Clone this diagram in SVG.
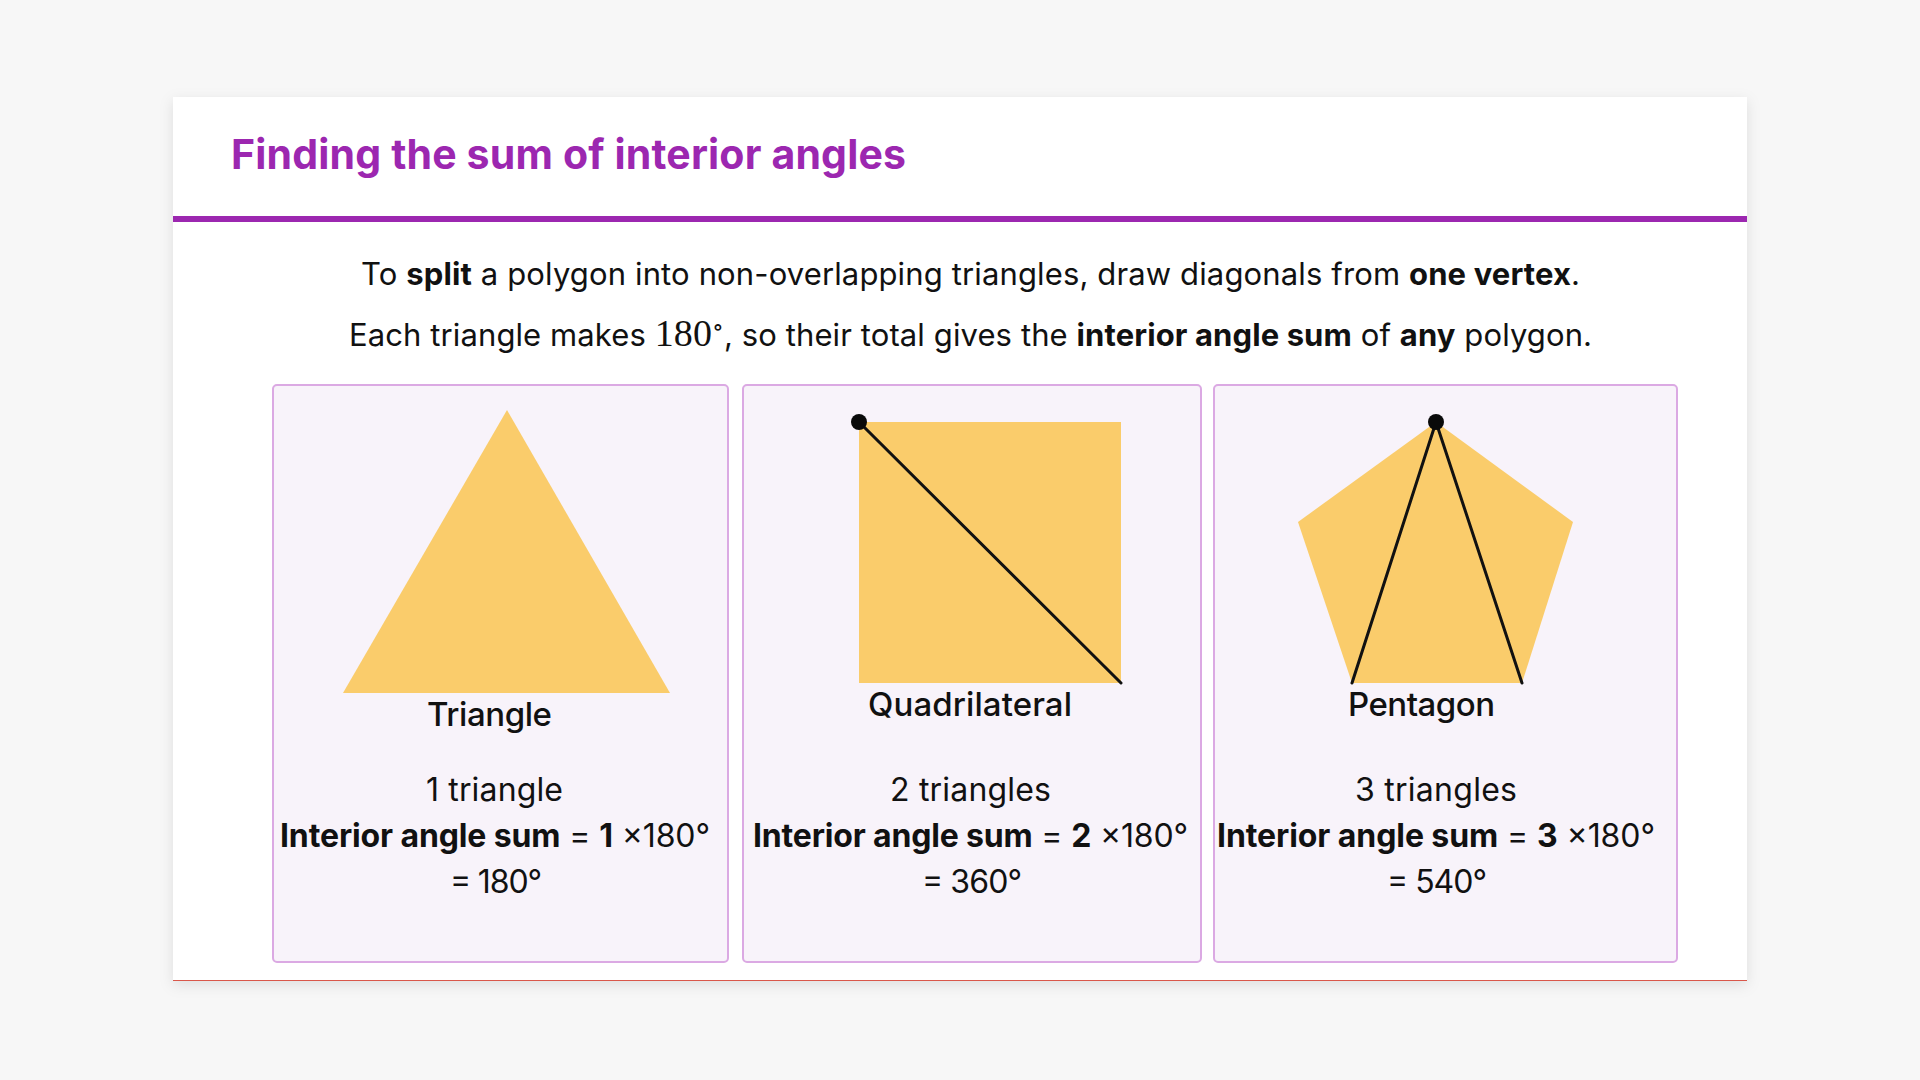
<svg xmlns="http://www.w3.org/2000/svg" width="1920" height="1080" viewBox="0 0 1920 1080">
  <defs>
    <filter id="shadow" x="-5%" y="-5%" width="110%" height="115%">
      <feDropShadow dx="0" dy="4" stdDeviation="7" flood-color="#000000" flood-opacity="0.10"/>
    </filter>
  </defs>
  <style>
    .sans { font-family: Inter, "Liberation Sans", "DejaVu Sans", sans-serif; fill: #111111; }
    .title { font-family: Inter, "Liberation Sans", sans-serif; font-weight: 700; font-size: 41px; fill: #9c27b0; }
    .intro { font-size: 31px; }
    .label { font-size: 33px; font-weight: 500; }
    .body { font-size: 32px; }
    .b { font-weight: 700; }
    .math { font-family: "Liberation Serif", "DejaVu Serif", serif; }
    .panel { fill: #f8f3fa; stroke: #dba9e3; stroke-width: 2; }
    .shape { fill: #facc6b; }
    .diag { stroke: #111111; stroke-width: 3; stroke-linecap: round; fill: none; }
    .dot { fill: #0a0a0a; }
  </style>

  <rect x="0" y="0" width="1920" height="1080" fill="#f7f7f7"/>

  <g id="card">
    <rect x="173" y="97" width="1574" height="884" fill="#ffffff" filter="url(#shadow)"/>
    <rect x="173" y="980" width="1574" height="1" fill="#d9574a"/>
    <text class="title" x="231" y="169" textLength="675" lengthAdjust="spacing">Finding the sum of interior angles</text>
    <rect x="173" y="216" width="1574" height="6" fill="#9c27b0"/>
  </g>

  <g id="intro">
    <text class="sans intro" x="970.5" y="285" text-anchor="middle" textLength="1219" lengthAdjust="spacing">To <tspan class="b">split</tspan> a polygon into non-overlapping triangles, draw diagonals from <tspan class="b">one vertex</tspan>.</text>
    <text class="sans intro" x="970.5" y="346" text-anchor="middle" textLength="1243" lengthAdjust="spacing">Each triangle makes <tspan class="math" font-size="38">180</tspan><tspan class="math" font-size="24" dy="-11">∘</tspan><tspan dy="11">, so their total gives the </tspan><tspan class="b">interior angle sum</tspan> of <tspan class="b">any</tspan> polygon.</text>
  </g>

  <g id="panel-triangle">
    <rect class="panel" x="273" y="385" width="455" height="577" rx="4"/>
    <polygon class="shape" points="507,410 670,693 343,693"/>
    <text class="sans label" x="489.5" y="726" text-anchor="middle" textLength="125" lengthAdjust="spacing">Triangle</text>
    <text class="sans body" x="494.5" y="801" text-anchor="middle" textLength="137" lengthAdjust="spacing">1 triangle</text>
    <text class="sans body" x="495" y="847" text-anchor="middle" textLength="430" lengthAdjust="spacing"><tspan class="b">Interior angle sum</tspan> = <tspan class="b">1</tspan> ×180°</text>
    <text class="sans body" x="496" y="893" text-anchor="middle" textLength="92" lengthAdjust="spacing">= 180°</text>
  </g>

  <g id="panel-quadrilateral">
    <rect class="panel" x="743" y="385" width="458" height="577" rx="4"/>
    <rect class="shape" x="859" y="422" width="262" height="261"/>
    <line class="diag" x1="859" y1="422" x2="1121" y2="683"/>
    <circle class="dot" cx="859" cy="422" r="8"/>
    <text class="sans label" x="970" y="716" text-anchor="middle" textLength="204" lengthAdjust="spacing">Quadrilateral</text>
    <text class="sans body" x="970.5" y="801" text-anchor="middle" textLength="161" lengthAdjust="spacing">2 triangles</text>
    <text class="sans body" x="970.5" y="847" text-anchor="middle" textLength="435" lengthAdjust="spacing"><tspan class="b">Interior angle sum</tspan> = <tspan class="b">2</tspan> ×180°</text>
    <text class="sans body" x="972" y="893" text-anchor="middle" textLength="100" lengthAdjust="spacing">= 360°</text>
  </g>

  <g id="panel-pentagon">
    <rect class="panel" x="1214" y="385" width="463" height="577" rx="4"/>
    <polygon class="shape" points="1436,422 1573,522 1522,683 1352,683 1298,522"/>
    <line class="diag" x1="1436" y1="422" x2="1352" y2="683"/>
    <line class="diag" x1="1436" y1="422" x2="1522" y2="683"/>
    <circle class="dot" cx="1436" cy="422" r="8"/>
    <text class="sans label" x="1421.5" y="716" text-anchor="middle" textLength="147" lengthAdjust="spacing">Pentagon</text>
    <text class="sans body" x="1436" y="801" text-anchor="middle" textLength="162" lengthAdjust="spacing">3 triangles</text>
    <text class="sans body" x="1436" y="847" text-anchor="middle" textLength="438" lengthAdjust="spacing"><tspan class="b">Interior angle sum</tspan> = <tspan class="b">3</tspan> ×180°</text>
    <text class="sans body" x="1437" y="893" text-anchor="middle" textLength="100" lengthAdjust="spacing">= 540°</text>
  </g>
</svg>
